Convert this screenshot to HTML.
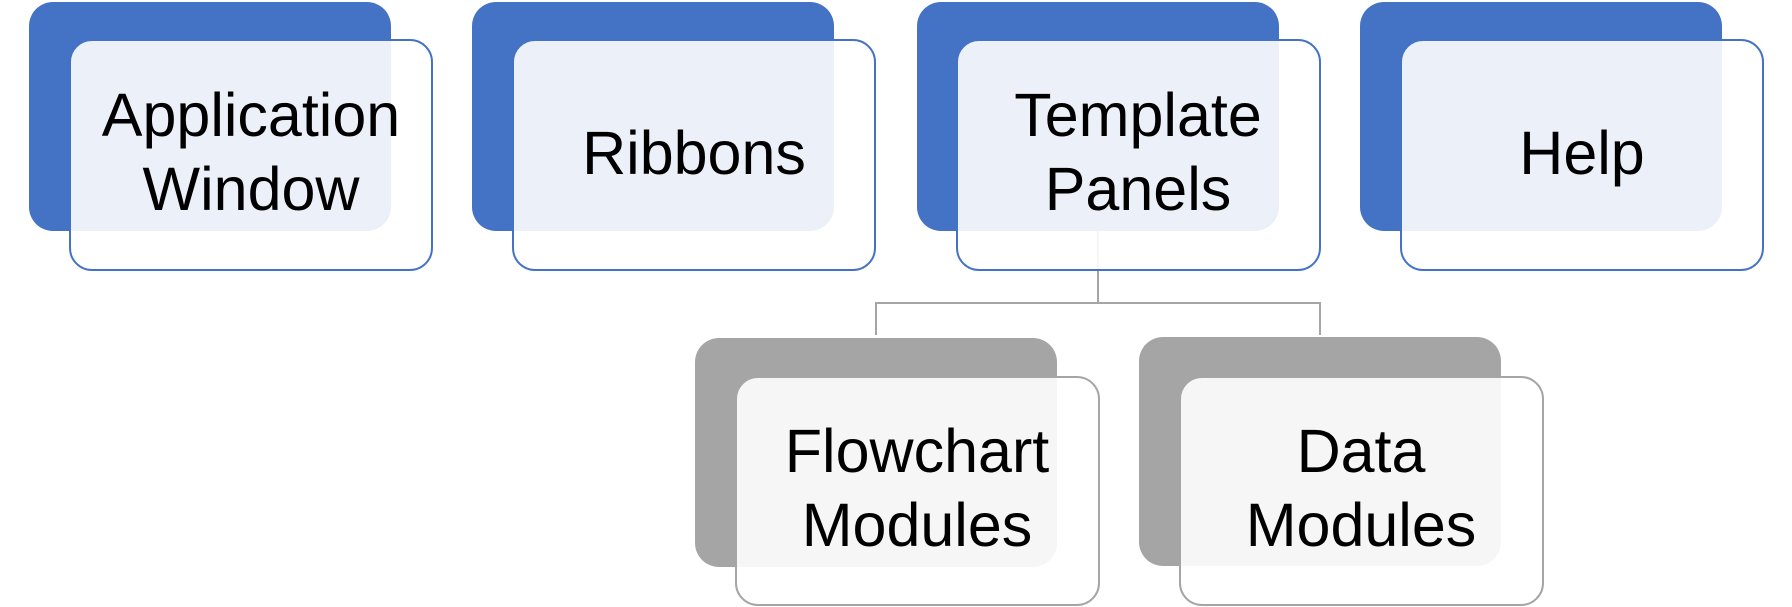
<!DOCTYPE html>
<html><head><meta charset="utf-8"><style>
html,body{margin:0;padding:0;background:#fff;}
svg{display:block;}
text{font-family:"Liberation Sans",sans-serif;font-size:61px;fill:#000;text-anchor:middle;}
</style></head><body>
<svg width="1792" height="607" viewBox="0 0 1792 607" xmlns="http://www.w3.org/2000/svg">
<g fill="none" stroke="#a5a5a5" stroke-width="2">
<path d="M1098 231 V303 M876 335 V303 H1320 V335"/>
</g>
<g fill="#4472c4">
<rect x="29" y="2" width="362" height="229" rx="24"/>
<rect x="472" y="2" width="362" height="229" rx="24"/>
<rect x="917" y="2" width="362" height="229" rx="24"/>
<rect x="1360" y="2" width="362" height="229" rx="24"/>
</g>
<g fill="#a5a5a5">
<rect x="695" y="338" width="362" height="229" rx="24"/>
<rect x="1139" y="337" width="362" height="229" rx="24"/>
</g>
<g fill="#ffffff" fill-opacity="0.9" stroke="#4472c4" stroke-width="2">
<rect x="70" y="40" width="362" height="230" rx="22"/>
<rect x="513" y="40" width="362" height="230" rx="22"/>
<rect x="957" y="40" width="363" height="230" rx="22"/>
<rect x="1401" y="40" width="362" height="230" rx="22"/>
</g>
<g fill="#ffffff" fill-opacity="0.9" stroke="#a5a5a5" stroke-width="2">
<rect x="736" y="377" width="363" height="228" rx="22"/>
<rect x="1180" y="377" width="363" height="228" rx="22"/>
</g>
<text x="251" y="136">Application</text>
<text x="251" y="210">Window</text>
<text x="694" y="174">Ribbons</text>
<text x="1138" y="136">Template</text>
<text x="1138" y="210">Panels</text>
<text x="1582" y="174">Help</text>
<text x="917" y="472">Flowchart</text>
<text x="917" y="546">Modules</text>
<text x="1361" y="472">Data</text>
<text x="1361" y="546">Modules</text>
</svg>
</body></html>
